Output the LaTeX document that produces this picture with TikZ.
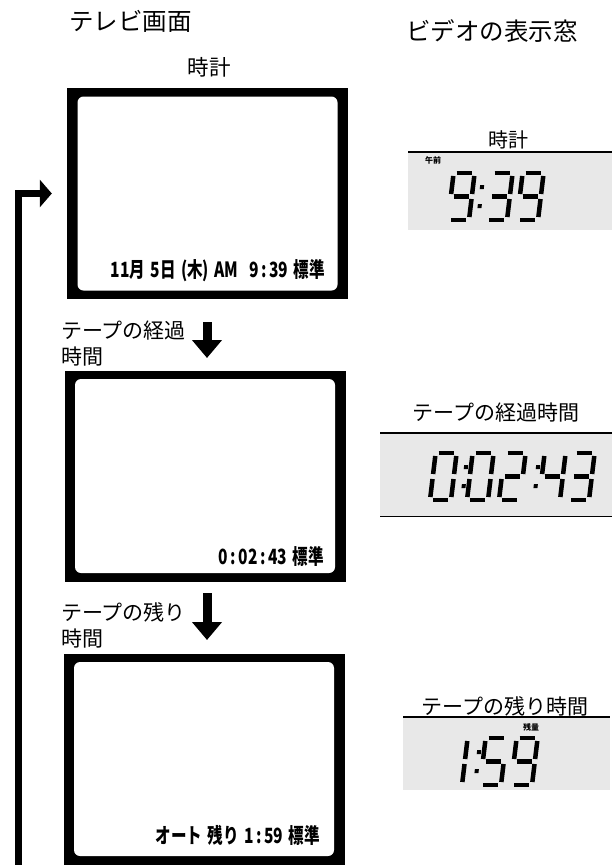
\documentclass[tikz,border=0pt]{standalone}
\usepackage{fontspec}
\setmainfont{Noto Sans CJK JP}
\usetikzlibrary{arrows.meta,positioning}

% segments of one LCD digit (width 21, height 47)
\newcommand{\lcdsega}{(3,47) -- (18,47)}
\newcommand{\lcdsegb}{(21,44) -- (21,26)}
\newcommand{\lcdsegc}{(21,21) -- (21,3)}
\newcommand{\lcdsegd}{(3,0) -- (18,0)}
\newcommand{\lcdsege}{(0,3) -- (0,21)}
\newcommand{\lcdsegf}{(0,26) -- (0,44)}
\newcommand{\lcdsegg}{(3,23.5) -- (18,23.5)}
\newcommand{\lcddigit}[3]{%
  \begin{scope}[shift={(#1,#2)}, y=1pt, xslant=0.12]
    \foreach \s in {#3} {\edef\segpath{\noexpand\draw[lcdseg] \csname lcdseg\s\endcsname;}\segpath}
  \end{scope}}
\newcommand{\lcdcolon}[2]{%
  \begin{scope}[shift={(#1,#2)}, y=1pt, xslant=0.12]
    \fill (-2,12) rectangle (2,16);
    \fill (-2,31) rectangle (2,35);
  \end{scope}}
\newcommand{\osdsep}{\hspace{0.35em}}

\begin{document}
\begin{tikzpicture}[x=1pt, y=-1pt,
  tvscreen/.style={fill=black, minimum width=281pt, minimum height=211pt, inner sep=0pt},
  tvinner/.style={fill=white, rounded corners=6pt, minimum width=260pt, minimum height=194pt, inner sep=0pt},
  osd/.style={font=\fontsize{21pt}{21pt}\selectfont\bfseries, inner sep=0pt, anchor=east},
  heading/.style={font=\fontsize{24.5pt}{24.5pt}\selectfont, inner sep=0pt},
  caption/.style={font=\fontsize{21pt}{26pt}\selectfont, inner sep=0pt, align=left, anchor=west},
  lcdpanel/.style={fill=gray!18, inner sep=0pt, anchor=north west},
  panelrule/.style={line width=1.6pt},
  lcdseg/.style={line width=4.5pt},
  lcdtag/.style={font=\fontsize{8pt}{8pt}\selectfont\bfseries, inner sep=0pt},
  stepdown/.style={-{Triangle[width=29pt,length=18pt]}, line width=9pt},
  loopback/.style={-{Triangle[width=27pt,length=12pt]}, line width=6.5pt}
]
\useasboundingbox (0,0) rectangle (612,865);

% headings
\node[heading, anchor=west] (tvhead) at (69,21) {テレビ画面};
\node[heading, anchor=west] (vidhead) at (406,31) {ビデオの表示窓};
\node[heading, font=\fontsize{21.5pt}{21.5pt}\selectfont] (clockcap) at (209,67) {時計};

% TV screens
\node[tvscreen] (scr1) at (207.5,193.5) {};
\node[tvinner] (scr1in) at (scr1) {};
\node[osd] (osd1) at (325,271) {\scalebox{0.74}[1]{11月\osdsep 5日\osdsep(木)\osdsep AM\osdsep\osdsep 9\,:\,39\osdsep 標準}};

\node[tvscreen] (scr2) at (205,476) {};
\node[tvinner] (scr2in) at (scr2) {};
\node[osd] (osd2) at (324,556) {\scalebox{0.74}[1]{0\,:\,02\,:\,43\osdsep 標準}};

\node[tvscreen] (scr3) at (204,759) {};
\node[tvinner] (scr3in) at (scr3) {};
\node[osd] (osd3) at (320,835) {\scalebox{0.74}[1]{オート\osdsep 残り\osdsep 1\,:\,59\osdsep 標準}};

% step arrows
\node[caption] (elapsedcap) at (61,344) {テープの経過\\時間};
\coordinate (down1a) at (207,322);
\coordinate (down1b) at (207,358);
\draw[stepdown] (down1a) -- (down1b);

\node[caption] (remaincap) at (61,625) {テープの残り\\時間};
\coordinate (down2a) at (207,593);
\coordinate (down2b) at (207,640);
\draw[stepdown] (down2a) -- (down2b);

% back to the clock
\coordinate (retfoot) at (18.5,865);
\draw[loopback] (retfoot) |- ([xshift=-15pt]scr1.west);

% VCR display: clock
\node[heading, font=\fontsize{20pt}{20pt}\selectfont] (clocktitle) at (508,140) {時計};
\node[lcdpanel, minimum width=204pt, minimum height=78pt] (clockpanel) at (408,152) {};
\draw[panelrule] (clockpanel.north west) -- (clockpanel.north east);
\node[lcdtag] (amtag) at (433,160) {午前};
\lcddigit{448}{220}{a,b,c,d,f,g}
\lcdcolon{478}{220}
\lcddigit{486}{220}{a,b,c,d,g}
\lcddigit{517}{220}{a,b,c,d,f,g}

% VCR display: elapsed
\node[heading, font=\fontsize{21pt}{21pt}\selectfont] (elapsedtitle) at (496,413) {テープの経過時間};
\node[lcdpanel, minimum width=232pt, minimum height=83pt] (elapsedpanel) at (380,433) {};
\draw[panelrule] (elapsedpanel.north west) -- (elapsedpanel.north east);
\draw[panelrule] (elapsedpanel.south west) -- (elapsedpanel.south east);
\lcddigit{430}{500}{a,b,c,d,e,f}
\lcdcolon{462}{500}
\lcddigit{467}{500}{a,b,c,d,e,f}
\lcddigit{499}{500}{a,b,g,e,d}
\lcdcolon{534}{500}
\lcddigit{539}{500}{f,g,b,c}
\lcddigit{568}{500}{a,b,g,c,d}

% VCR display: remaining
\node[heading, font=\fontsize{21pt}{21pt}\selectfont] (remaintitle) at (505,706) {テープの残り時間};
\node[lcdpanel, minimum width=207pt, minimum height=73pt] (remainpanel) at (403,717) {};
\draw[panelrule] (remainpanel.north west) -- (remainpanel.north east);
\node[lcdtag] (resttag) at (531,727) {残量};
\lcddigit{441}{785}{b,c}
\lcdcolon{475}{785}
\lcddigit{480}{785}{a,f,g,c,d}
\lcddigit{511}{785}{a,b,c,d,f,g}
\end{tikzpicture}
\end{document}
